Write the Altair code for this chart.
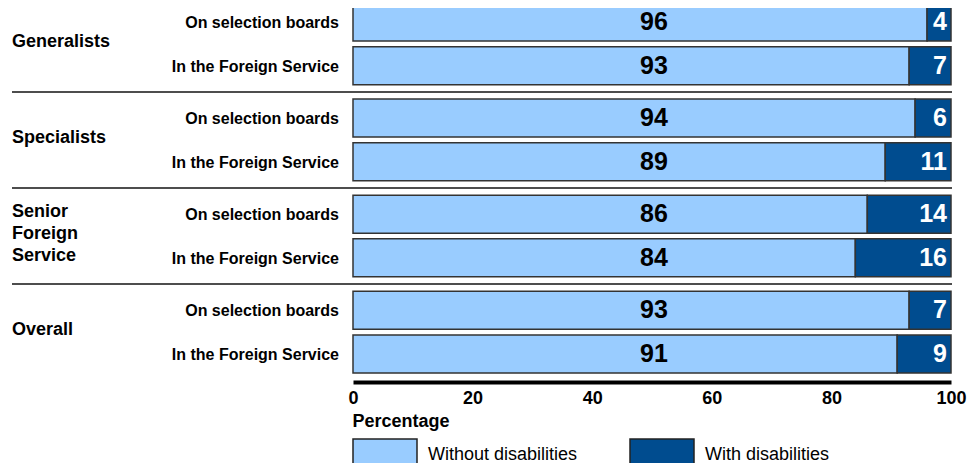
import altair as alt
import pandas as pd

# ---- data ----
groups = ["Generalists", "Specialists", "Senior\nForeign\nService", "Overall"]
subs = ["On selection boards", "In the Foreign Service"]
without_dis = [96, 93, 94, 89, 86, 84, 93, 91]
with_dis = [4, 7, 6, 11, 14, 16, 7, 9]
series = ["Without disabilities", "With disabilities"]
colors = ["#99ccff", "#004c8f"]
x_ticks = [0, 20, 40, 60, 80, 100]

FONT = "Liberation Sans, Arial, sans-serif"

rows = []
segs = []
for i in range(len(without_dis)):
    g = i // 2
    pos = i + 0.2 * g
    rows.append({"group": groups[g], "sub": subs[i % 2], "pos": pos,
                 "wo": without_dis[i], "w": with_dis[i],
                 "total": without_dis[i] + with_dis[i]})
    segs.append({"pos": pos, "series": series[0], "start": 0, "end": without_dis[i]})
    segs.append({"pos": pos, "series": series[1], "start": without_dis[i],
                 "end": without_dis[i] + with_dis[i]})
rows_df = pd.DataFrame(rows)
seg_df = pd.DataFrame(segs)

# group labels, one row per text line, centred on the group's two bars
line_step = 0.504
grp_lines = []
for g, name in enumerate(groups):
    center = (rows_df["pos"][2 * g] + rows_df["pos"][2 * g + 1]) / 2
    parts = name.split("\n")
    for j, part in enumerate(parts):
        grp_lines.append({"text": part,
                          "pos": float(center + (j - (len(parts) - 1) / 2) * line_step)})
grp_df = pd.DataFrame(grp_lines)
sep_df = pd.DataFrame({"pos": [float((rows_df["pos"][2 * k + 1] + rows_df["pos"][2 * k + 2]) / 2)
                               for k in range(len(groups) - 1)]})

ysc = alt.Scale(domain=[-0.3205, 8.2418], reverse=True, nice=False, zero=False)
xsc = alt.Scale(domain=[0, 100], nice=False)
half = 0.435

xaxis = alt.Axis(values=x_ticks, title="Percentage", grid=False, ticks=False,
                 domainColor="#000000", domainWidth=4,
                 labelFont=FONT, labelFontSize=18, labelFontWeight="bold",
                 labelColor="#000000", labelPadding=7, labelFlush=False,
                 titleFont=FONT, titleFontSize=18, titleFontWeight="bold",
                 titleColor="#000000", titleAnchor="start", titleAlign="left",
                 titleBaseline="top", titleX=-1, titleY=30)

bars = alt.Chart(seg_df).transform_calculate(
    y0=f"datum.pos - {half}", y1=f"datum.pos + {half}"
).mark_bar(stroke="#333333", strokeWidth=1.5).encode(
    x=alt.X("start:Q", scale=xsc, axis=xaxis, title="Percentage"),
    x2="end:Q",
    y=alt.Y("y0:Q", scale=ysc, axis=None),
    y2="y1:Q",
    color=alt.Color("series:N", scale=alt.Scale(domain=series, range=colors),
                    legend=alt.Legend(title=None, orient="none", direction="horizontal",
                                      legendX=-1, legendY=414,
                                      symbolType="M-1,-0.5H1V0.5H-1Z", symbolSize=4096,
                                      symbolStrokeColor="#222222", symbolStrokeWidth=1.5,
                                      symbolOpacity=1,
                                      labelFont=FONT, labelFontSize=18, labelColor="#000000",
                                      labelOffset=10, columnPadding=49)),
)

light_txt = alt.Chart(rows_df).transform_calculate(mid="50").mark_text(
    font=FONT, fontSize=25, fontWeight="bold", color="#000000", baseline="middle", dx=2
).encode(x=alt.X("mid:Q", scale=xsc, axis=xaxis, title="Percentage"),
         y=alt.Y("pos:Q", scale=ysc, axis=None), text="wo:Q")

dark_txt = alt.Chart(rows_df).mark_text(
    font=FONT, fontSize=25, fontWeight="bold", color="#ffffff", baseline="middle",
    align="right", dx=-4
).encode(x=alt.X("total:Q", scale=xsc, axis=xaxis, title="Percentage"),
         y=alt.Y("pos:Q", scale=ysc, axis=None), text="w:Q")

sub_txt = alt.Chart(rows_df).mark_text(
    font=FONT, fontSize=16, fontWeight="bold", color="#000000", baseline="middle",
    align="right", dy=1
).encode(x=alt.value(-14), y=alt.Y("pos:Q", scale=ysc, axis=None), text="sub:N")

grp_txt = alt.Chart(grp_df).mark_text(
    font=FONT, fontSize=18, fontWeight="bold", color="#000000", baseline="middle",
    align="left", dy=-2
).encode(x=alt.value(-341), y=alt.Y("pos:Q", scale=ysc, axis=None), text="text:N")

seps = alt.Chart(sep_df).mark_rule(color="#4d4d4d", strokeWidth=2).encode(
    x=alt.value(-341), x2=alt.value(599), y=alt.Y("pos:Q", scale=ysc, axis=None)
)

chart = alt.layer(seps, bars, light_txt, dark_txt, sub_txt, grp_txt).properties(
    width=598, height=374,
    autosize=alt.AutoSizeParams(type="none"),
    padding={"left": 345, "top": 0, "right": 20, "bottom": 81},
).configure_view(stroke=None)

chart.save("out.html", embed_options={"renderer": "svg", "actions": False})
